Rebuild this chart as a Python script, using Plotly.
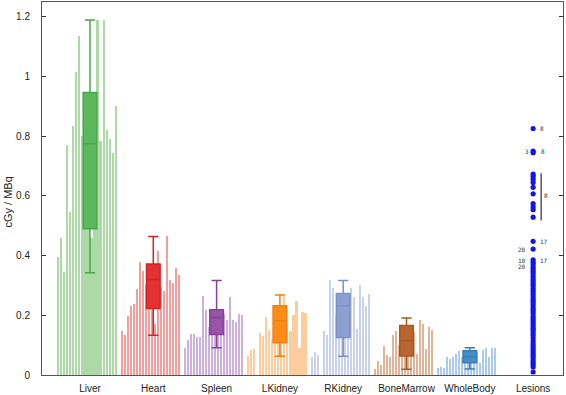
import plotly.graph_objects as go

organs = ["Liver", "Heart", "Spleen", "LKidney", "RKidney", "BoneMarrow", "WholeBody"]
categories = organs + ["Lesions"]

liver = [0.395, 0.46, 0.345, 0.77, 0.545, 0.835, 1.015, 1.135, 0.80, 0.62,
         0.70, 0.458, 0.88, 1.19, 0.785, 1.19, 0.82, 0.79, 0.745, 0.90]
heart = [0.147, 0.133, 0.197, 0.230, 0.238, 0.287, 0.379, 0.348, 0.30, 0.27,
         0.33, 0.171, 0.414, 0.296, 0.282, 0.466, 0.32, 0.31, 0.357, 0.334]
spleen = [0.091, 0.116, 0.138, 0.138, 0.127, 0.127, 0.265, 0.219, 0.16, 0.20,
          0.21, 0.15, 0.18, 0.203, 0.185, 0.26, 0.185, 0.178, 0.203, 0.20]
lkidney = [0.063, 0.083, 0.087, 0.0, 0.140, 0.130, 0.193, 0.15, 0.12, 0.16,
           0.20, 0.11, 0.266, 0.171, 0.149, 0.20, 0.249, 0.091, 0.212, 0.207]
rkidney = [0.061, 0.077, 0.066, 0.0, 0.147, 0.135, 0.317, 0.29, 0.20, 0.25,
           0.16, 0.20, 0.26, 0.29, 0.26, 0.155, 0.30, 0.262, 0.232, 0.273]
bonemarrow = [0.019, 0.046, 0.033, 0.096, 0.066, 0.061, 0.133, 0.149, 0.10, 0.12,
              0.09, 0.13, 0.15, 0.144, 0.072, 0.185, 0.171, 0.088, 0.162, 0.15]
wholebody = [0.022, 0.028, 0.022, 0.061, 0.052, 0.059, 0.070, 0.081, 0.060, 0.050,
             0.070, 0.040, 0.065, 0.077, 0.041, 0.085, 0.090, 0.061, 0.092, 0.092]
organ_values = [liver, heart, spleen, lkidney, rkidney, bonemarrow, wholebody]

# box statistics
box_q1 = [0.49, 0.223, 0.136, 0.108, 0.126, 0.064, 0.041]
box_median = [0.775, 0.32, 0.193, 0.182, 0.232, 0.116, 0.061]
box_q3 = [0.947, 0.372, 0.219, 0.232, 0.273, 0.166, 0.081]
box_low = [0.343, 0.133, 0.091, 0.063, 0.063, 0.019, 0.020]
box_high = [1.19, 0.464, 0.317, 0.268, 0.317, 0.191, 0.091]

bar_colors = ["rgb(172,217,165)", "rgb(241,158,158)", "rgb(205,176,220)", "rgb(253,204,156)",
              "rgb(200,210,235)", "rgb(222,181,152)", "rgb(172,203,234)"]
box_colors = ["rgb(92,184,92)", "rgb(228,50,50)", "rgb(152,84,168)", "rgb(255,140,24)",
              "rgb(140,160,210)", "rgb(185,102,48)", "rgb(72,140,200)"]
box_lines = ["rgb(74,166,74)", "rgb(214,34,34)", "rgb(134,66,152)", "rgb(240,128,16)",
             "rgb(122,144,198)", "rgb(168,88,36)", "rgb(56,124,188)"]

lesions = [0.826, 0.750, 0.745, 0.673, 0.665, 0.656, 0.645, 0.629, 0.607, 0.574, 0.563,
           0.554, 0.529, 0.448, 0.422,
           0.386, 0.378, 0.370, 0.362, 0.355, 0.347, 0.340, 0.331, 0.322, 0.315, 0.307,
           0.300, 0.291, 0.283, 0.275, 0.268, 0.259, 0.251, 0.244, 0.236, 0.228, 0.220,
           0.213, 0.205, 0.196, 0.188, 0.181, 0.173, 0.165, 0.157, 0.150, 0.141, 0.133,
           0.124, 0.114, 0.105, 0.097, 0.089, 0.081, 0.074, 0.066, 0.058, 0.050, 0.042,
           0.035, 0.027, 0.010]
lesion_label_text = ["8", "3", "8", "8", "17", "20", "10", "20", "17"]
lesion_label_value = [0.825, 0.748, 0.748, 0.600, 0.448, 0.422, 0.384, 0.364, 0.384]
lesion_label_shift = [9, -6, 10, 13, 11, -11, -11, -11, 11]
bracket_cluster = lesions[3:13]

slots = 21

fig = go.Figure()
for k, vals in enumerate(organ_values):
    xs = [k + (i - 10.5) / slots for i in range(len(vals))]
    fig.add_trace(go.Bar(x=xs, y=vals, width=0.7 / slots,
                         marker=dict(color=bar_colors[k], line=dict(width=0)),
                         hoverinfo="y"))
for k in range(len(organs)):
    fig.add_trace(go.Box(x=[k], q1=[box_q1[k]], median=[box_median[k]], q3=[box_q3[k]],
                         lowerfence=[box_low[k]], upperfence=[box_high[k]],
                         width=0.215, whiskerwidth=0.75,
                         fillcolor=box_colors[k], line=dict(color=box_lines[k], width=1.5),
                         boxpoints=False))
fig.add_trace(go.Scatter(x=[len(organs)] * len(lesions), y=lesions, mode="markers",
                         marker=dict(color="rgb(20,20,235)", size=5.2)))

for t, v, s in zip(lesion_label_text, lesion_label_value, lesion_label_shift):
    fig.add_annotation(x=len(organs), y=v, xref="x", yref="y", text=t, showarrow=False,
                       xshift=s, font=dict(size=6, color="#333", family="DejaVu Sans Mono"))

fig.add_shape(type="line", xref="x", yref="y", xsizemode="pixel", xanchor=len(organs),
              x0=8, x1=8, y0=min(bracket_cluster) - 0.011, y1=max(bracket_cluster) + 0.003,
              line=dict(color="black", width=1))

fig.add_annotation(x=-0.0653, y=0.465, xref="paper", yref="paper", text="cGy / MBq",
                   xanchor="center", yanchor="middle",
                   textangle=-90, showarrow=False, font=dict(size=11, color="#222"))

fig.update_layout(
    width=566, height=395,
    margin=dict(l=42, r=3, t=1, b=17),
    plot_bgcolor="white", paper_bgcolor="white",
    showlegend=False, barmode="overlay", boxmode="overlay", bargap=0,
    font=dict(family="Liberation Sans", size=10, color="#222"),
)
fig.update_xaxes(range=[-0.758, 7.472], tickvals=list(range(len(categories))),
                 ticktext=categories, ticks="", showgrid=False, zeroline=False,
                 showline=True, linecolor="#555", linewidth=1, mirror=True,
                 ticklabelstandoff=4)
fig.update_yaxes(range=[0, 1.25], tickvals=[0, 0.2, 0.4, 0.6, 0.8, 1.0, 1.2],
                 ticks="inside", ticklen=4, tickcolor="#333", showgrid=False, zeroline=False,
                 showline=True, linecolor="#555", linewidth=1, mirror="ticks",
                 ticklabelstandoff=9)

fig.write_html("out.html", config={"displayModeBar": False})
with open("out.html", "r", encoding="utf-8") as f:
    html = f.read()
html = html.replace("<head>", "<head><style>html,body{margin:0;padding:0;overflow:hidden;}</style>", 1)
with open("out.html", "w", encoding="utf-8") as f:
    f.write(html)
